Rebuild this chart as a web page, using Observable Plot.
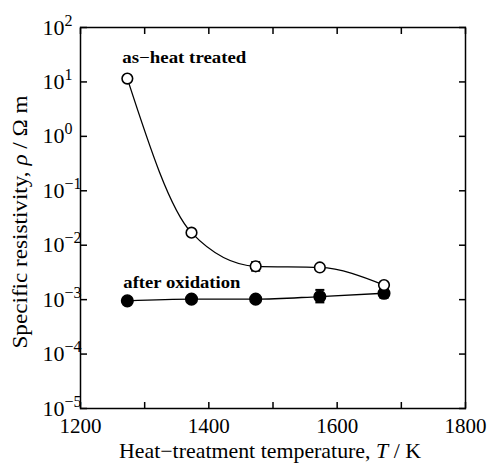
<!DOCTYPE html>
<html><head><meta charset="utf-8">
<script src="https://cdn.jsdelivr.net/npm/d3@7"></script>
<script src="https://cdn.jsdelivr.net/npm/@observablehq/plot@0.6"></script>
<style>
body{margin:0;background:#fff;}
#chart svg{display:block;}
</style>
</head><body><div id="chart"></div>
<script>
const temps = [1273, 1373, 1473, 1573, 1673];
const asHeat = [11.5, 0.017, 0.0041, 0.0039, 0.00185];
const afterOx = [0.00095, 0.00102, 0.00102, 0.00114, 0.00131];
const asHeatLo = [null, null, 0.0034, 0.0035, null];
const asHeatHi = [null, null, 0.0049, 0.0043, null];
const afterOxLo = [null, null, null, 0.00089, 0.00108];
const afterOxHi = [null, null, null, 0.00151, 0.00160];
const xTicks = [1200, 1300, 1400, 1500, 1600, 1700, 1800];
const xLabels = [1200, 1400, 1600, 1800];
const yTicks = [1e-5, 1e-4, 1e-3, 1e-2, 1e-1, 1e0, 1e1, 1e2];
const seriesNames = ["as−heat treated", "after oxidation"];

const rowsA = temps.map((t, i) => ({t, v: asHeat[i], lo: asHeatLo[i], hi: asHeatHi[i]}));
const rowsB = temps.map((t, i) => ({t, v: afterOx[i], lo: afterOxLo[i], hi: afterOxHi[i]}));
const errs = [...rowsA, ...rowsB].filter(d => d.lo != null);

const capSymbol = {draw(ctx, size) { const w = Math.sqrt(size / Math.PI); ctx.moveTo(-w, 0); ctx.lineTo(w, 0); }};

const chart = Plot.plot({
  width: 490,
  height: 467,
  marginLeft: 80,
  marginRight: 25,
  marginTop: 27,
  marginBottom: 59,
  style: {fontFamily: "Liberation Serif", fontSize: "21px", background: "#fff", color: "#000"},
  x: {domain: [1200, 1800]},
  y: {type: "log", domain: [1e-5, 1e2]},
  marks: [
    Plot.frame({stroke: "#000", strokeWidth: 1.5}),
    Plot.axisX({ticks: xTicks, tickSize: -6, tickFormat: () => "", label: null, strokeWidth: 1.5}),
    Plot.axisX({anchor: "top", ticks: xTicks, tickSize: -6, tickFormat: () => "", label: null, strokeWidth: 1.5}),
    Plot.axisX({ticks: xLabels, tickSize: 0, tickPadding: 10, tickFormat: d => String(d),
      label: "Heat−treatment temperature, T / K", labelAnchor: "center", labelOffset: 52, labelArrow: "none"}),
    Plot.axisY({ticks: yTicks, tickSize: -7, tickFormat: () => "", label: null, strokeWidth: 1.5}),
    Plot.axisY({anchor: "right", ticks: yTicks, tickSize: -7, tickFormat: () => "", label: null, strokeWidth: 1.5}),
    Plot.axisY({ticks: yTicks, tickSize: 0, tickPadding: 38, tickFormat: d => String(Math.round(Math.log10(d))),
      label: "Specific resistivity, ρ / Ω m", labelAnchor: "center", labelOffset: 70, labelArrow: "none"}),
    Plot.line(rowsA, {x: "t", y: "v", curve: "monotone-x", stroke: "#000", strokeWidth: 1.3}),
    Plot.line(rowsB, {x: "t", y: "v", curve: "monotone-x", stroke: "#000", strokeWidth: 1.3}),
    Plot.ruleX(errs, {x: "t", y1: "lo", y2: "hi", stroke: "#000", strokeWidth: 1.3}),
    Plot.dot(errs, {x: "t", y: "lo", symbol: capSymbol, r: 4.5, stroke: "#000", strokeWidth: 2, fill: "none"}),
    Plot.dot(errs, {x: "t", y: "hi", symbol: capSymbol, r: 4.5, stroke: "#000", strokeWidth: 2, fill: "none"}),
    Plot.dot(rowsB, {x: "t", y: "v", r: 5.8, fill: "#000", stroke: "#000"}),
    Plot.dot(rowsA, {x: "t", y: "v", r: 5.3, fill: "#fff", stroke: "#000", strokeWidth: 1.6}),
    Plot.text([rowsA[0]], {x: "t", y: "v", text: () => seriesNames[0], textAnchor: "start", dx: -5, dy: -21,
      fontWeight: "bold", fontSize: 16.5}),
    Plot.text([rowsB[0]], {x: "t", y: "v", text: () => seriesNames[1], textAnchor: "start", dx: -4, dy: -18,
      fontWeight: "bold", fontSize: 16.5})
  ]
});
document.getElementById("chart").appendChild(chart);

const svg = d3.select(chart);
svg.selectAll('g[aria-label="y-axis tick label"] text').each(function() {
  const t = d3.select(this);
  const s = t.text();
  if (s === "") return;
  const e = s.replace("-", "\u2212");
  t.text(null).attr("text-anchor", "start").style("font-size", "22px");
  t.append("tspan").text("10");
  t.append("tspan").attr("dy", -9).style("font-size", "16px").text(e);
});
function centre(node, cx, cy) {
  const r = node.getBoundingClientRect();
  const s = chart.getBoundingClientRect();
  const dx = cx - (r.left + r.width / 2 - s.left);
  const dy = cy - (r.top + r.height / 2 - s.top);
  const old = node.getAttribute("transform") || "";
  node.setAttribute("transform", `translate(${dx},${dy}) ${old}`);
}
svg.selectAll('g[aria-label="y-axis label"] text').each(function() {
  const t = d3.select(this);
  if (t.text() === "") return;
  t.text(null).attr("textLength", 253).attr("lengthAdjust", "spacingAndGlyphs");
  t.append("tspan").text("Specific resistivity, ");
  t.append("tspan").style("font-style", "italic").text("ρ");
  t.append("tspan").text(" / Ω m");
  centre(this, 20, 222);
});
svg.selectAll('g[aria-label="x-axis label"] text').each(function() {
  const t = d3.select(this);
  if (t.text() === "") return;
  t.text(null).attr("textLength", 302).attr("lengthAdjust", "spacingAndGlyphs");
  t.append("tspan").text("Heat−treatment temperature, ");
  t.append("tspan").style("font-style", "italic").text("T");
  t.append("tspan").text(" / K");
  centre(this, 270, 451);
});
// series annotations: fix their widths to the reference's
const annWidths = [124, 117];
chart.querySelectorAll("text").forEach(n => {
  const i = seriesNames.indexOf(n.textContent);
  if (i < 0) return;
  n.setAttribute("text-anchor", "start");
  n.setAttribute("textLength", annWidths[i]);
  n.setAttribute("lengthAdjust", "spacingAndGlyphs");
  n.getBoundingClientRect();
});
</script>
</body></html>
